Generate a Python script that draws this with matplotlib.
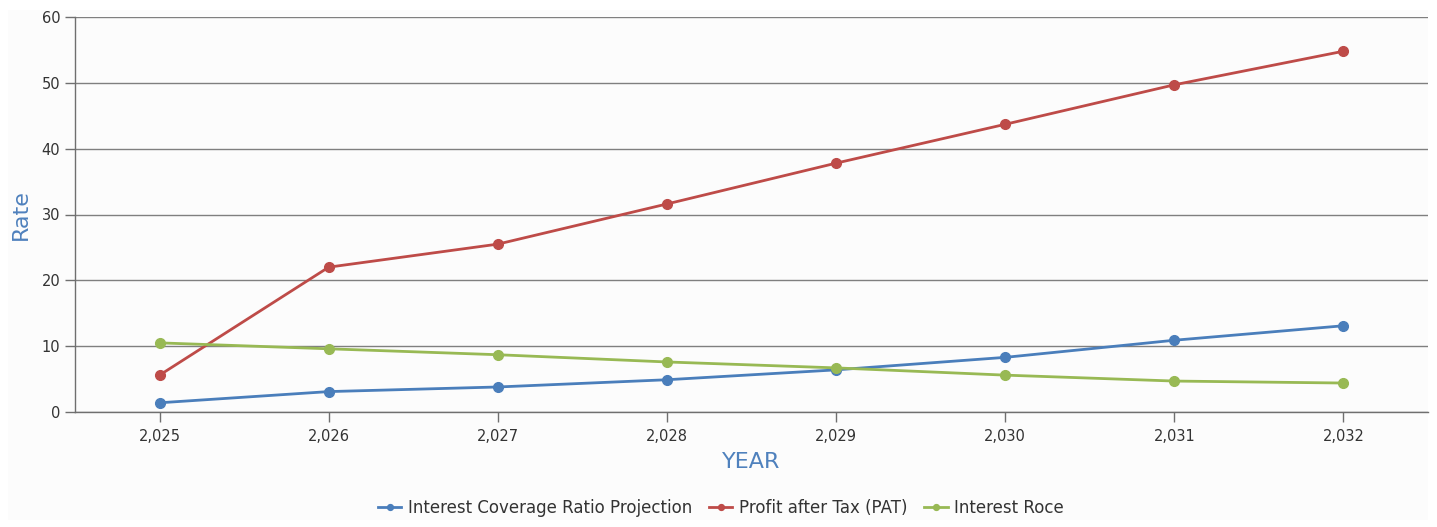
import matplotlib
matplotlib.use("Agg")
import matplotlib.pyplot as plt
from matplotlib.patches import Rectangle
from matplotlib.ticker import FuncFormatter, MultipleLocator

years = [2025, 2026, 2027, 2028, 2029, 2030, 2031, 2032]
interest_coverage = [1.4, 3.1, 3.8, 4.9, 6.4, 8.3, 10.9, 13.1]
profit_after_tax = [5.6, 22.0, 25.5, 31.6, 37.8, 43.7, 49.7, 54.8]
interest_roce = [10.5, 9.6, 8.7, 7.6, 6.7, 5.6, 4.7, 4.4]

series = [
    ("Interest Coverage Ratio Projection", interest_coverage, "#4a7ebb"),
    ("Profit after Tax (PAT)", profit_after_tax, "#be4b48"),
    ("Interest Roce", interest_roce, "#98b954"),
]

W, H = 1437, 527
fig = plt.figure(figsize=(W / 100, H / 100), dpi=100)
fig.patch.set_facecolor("white")
fig.add_artist(Rectangle((8 / W, 1 - 520 / H), (1428 - 8) / W, (520 - 10) / H,
                         transform=fig.transFigure, facecolor="#fcfcfc",
                         edgecolor="none", zorder=0))

ax = fig.add_axes([75 / W, 1 - 412 / H, (1428 - 75) / W, (412 - 17) / H])
ax.set_facecolor("#fcfcfc")

for name, vals, color in series:
    ax.plot(years, vals, color=color, lw=2, marker="o", markersize=7,
            label=name, zorder=3)

ax.set_xlim(2024.5, 2032.5)
ax.set_ylim(0, 60)
ax.yaxis.set_major_locator(MultipleLocator(10))
ax.set_xticks(years)
ax.xaxis.set_major_formatter(FuncFormatter(lambda v, p: f"{int(round(v)):,}"))

ax.grid(axis="y", color="#7f7f7f", lw=1)
ax.set_axisbelow(True)
for s in ("top", "right"):
    ax.spines[s].set_visible(False)
for s in ("left", "bottom"):
    ax.spines[s].set_color("#6f6f6f")
    ax.spines[s].set_linewidth(1)
ax.tick_params(axis="both", colors="#6f6f6f", labelcolor="#333333",
               labelsize=10.5, length=7, width=1)
ax.tick_params(axis="x", pad=5)

ax.set_ylabel("Rate", color="#4f81bd", fontsize=16, labelpad=8)
ax.set_xlabel("YEAR", color="#4f81bd", fontsize=16, labelpad=6)

leg = fig.legend(loc="center", bbox_to_anchor=(721 / W, 1 - 508 / H), ncol=3,
                 frameon=False, fontsize=12, handlelength=1.4,
                 handletextpad=0.4, columnspacing=1.0, markerscale=0.6)
for t in leg.get_texts():
    t.set_color("#333333")

fig.savefig("out.png", dpi=100)
